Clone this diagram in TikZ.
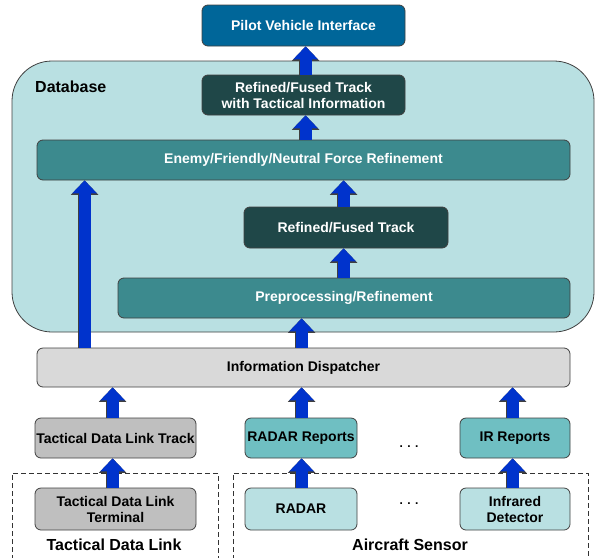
\documentclass[tikz,border=0pt]{standalone}
\usepackage{fontspec}
\setmainfont{Liberation Sans}
\usetikzlibrary{arrows.meta,calc}
\definecolor{pvic}{HTML}{006699}
\definecolor{dbc}{HTML}{B9E0E2}
\definecolor{darkteal}{HTML}{1F4748}
\definecolor{midteal}{HTML}{3C8A8E}
\definecolor{infoc}{HTML}{D9D9D9}
\definecolor{grayc}{HTML}{BFBFBF}
\definecolor{repc}{HTML}{6FBFC2}
\definecolor{lightc}{HTML}{B9E0E2}
\definecolor{arrc}{HTML}{0033CC}
\definecolor{edgec}{HTML}{404040}
\tikzset{
  box/.style={draw=edgec, line width=0.8pt, rounded corners=6pt, inner sep=0pt,
    align=center, font=\fontsize{14}{16}\selectfont\bfseries},
  darkbox/.style={box, fill=darkteal, text=white},
  tealbox/.style={box, fill=midteal, text=white},
  pvibox/.style={box, fill=pvic, text=white},
  infobox/.style={box, fill=infoc, text=black},
  graybox/.style={box, fill=grayc, text=black},
  repbox/.style={box, fill=repc, text=black},
  srcbox/.style={box, fill=lightc, text=black},
  blk/.style={arrc, line width=12pt,
    -{Triangle[width=24pt,length=13pt]},
    preaction={draw=black!75, line width=13.4pt, -{Triangle[width=26.5pt,length=14.4pt]}}},
  grouplabel/.style={font=\fontsize{16}{18}\selectfont\bfseries, inner sep=0pt},
  dots/.style={font=\fontsize{12}{14}\selectfont\bfseries, inner sep=0pt},
  groupbox/.style={draw=black!80, dash pattern=on 5pt off 3pt, line width=0.8pt}
}
\begin{document}
\begin{tikzpicture}[x=1pt,y=-1pt]
\useasboundingbox (0,0) rectangle (596,557);
% database container
\draw[draw=edgec, fill=dbc, line width=0.8pt, rounded corners=40pt] (12,61) rectangle (594,332);
\node[grouplabel, anchor=base west] (dblabel) at (35,92) {Database};
% group boxes
\draw[groupbox] (12,560) -- (12,473) -- (218,473) -- (218,560);
\draw[groupbox] (233,560) -- (233,473) -- (588,473) -- (588,560);
\node[grouplabel, anchor=base] (tdlgroup) at (114,550) {Tactical Data Link};
\node[grouplabel, anchor=base] (acgroup) at (410,550) {Aircraft Sensor};
% nodes
\node[pvibox, minimum width=203pt, minimum height=41pt] (pvi) at (303.5,25.5) {Pilot Vehicle Interface};
\node[darkbox, minimum width=203pt, minimum height=40pt] (rftti) at (303.5,95) {Refined/Fused Track\\with Tactical Information};
\node[tealbox, minimum width=533pt, minimum height=40pt] (efn) at (303.5,160) {Enemy/Friendly/Neutral Force Refinement};
\node[darkbox, minimum width=204pt, minimum height=41pt] (rft) at (346,227.5) {Refined/Fused Track};
\node[tealbox, minimum width=452pt, minimum height=40pt] (prep) at (344,298) {Preprocessing/Refinement};
\node[infobox, minimum width=533pt, minimum height=39pt] (info) at (303.5,367.5) {Information Dispatcher};
\node[graybox, minimum width=161pt, minimum height=40pt] (tdltrack) at (115.5,438) {Tactical Data Link Track};
\node[repbox, minimum width=112pt, minimum height=40pt] (radrep) at (301,438) {RADAR Reports};
\node[repbox, minimum width=110pt, minimum height=40pt] (irrep) at (515,438) {IR Reports};
\node[graybox, minimum width=161pt, minimum height=42pt] (tdlterm) at (115.5,509) {Tactical Data Link\\Terminal};
\node[srcbox, minimum width=112pt, minimum height=42pt] (radar) at (301,509) {RADAR};
\node[srcbox, minimum width=110pt, minimum height=42pt] (ird) at (515,509) {Infrared\\Detector};
\node[dots] (dots1) at (409,447) {. . .};
\node[dots] (dots2) at (409,504) {. . .};
% arrows
\coordinate (a1) at ($(rftti.north west)+(104,0)$);
\draw[blk] (a1) -- (a1 |- pvi.south);
\coordinate (a2) at ($(efn.north west)+(269,0)$);
\draw[blk] (a2) -- (a2 |- rftti.south);
\coordinate (a3) at ($(rft.north west)+(100,0)$);
\draw[blk] (a3) -- (a3 |- efn.south);
\coordinate (a4) at ($(prep.north west)+(226,0)$);
\draw[blk] (a4) -- (a4 |- rft.south);
\coordinate (a5) at ($(info.north west)+(265,0)$);
\draw[blk] (a5) -- (a5 |- prep.south);
\coordinate (a6) at ($(info.north west)+(48,0)$);
\draw[blk] (a6) -- (a6 |- efn.south);
\coordinate (a7) at ($(tdltrack.north west)+(78,0)$);
\draw[blk] (a7) -- (a7 |- info.south);
\coordinate (a8) at ($(radrep.north west)+(57,0)$);
\draw[blk] (a8) -- (a8 |- info.south);
\coordinate (a9) at ($(irrep.north west)+(53,0)$);
\draw[blk] (a9) -- (a9 |- info.south);
\coordinate (a10) at ($(tdlterm.north west)+(78,0)$);
\draw[blk] (a10) -- (a10 |- tdltrack.south);
\coordinate (a11) at ($(radar.north west)+(57,0)$);
\draw[blk] (a11) -- (a11 |- radrep.south);
\coordinate (a12) at ($(ird.north west)+(53,0)$);
\draw[blk] (a12) -- (a12 |- irrep.south);
\end{tikzpicture}
\end{document}
